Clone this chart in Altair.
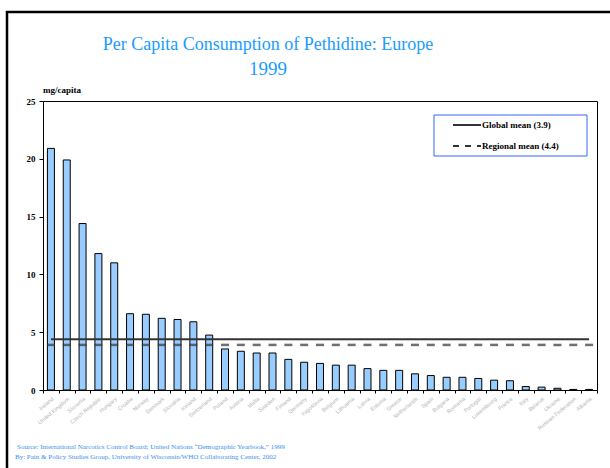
import altair as alt
import pandas as pd

countries = ["Ireland", "United Kingdom", "Slovenia", "Czech Republic", "Hungary",
             "Croatia", "Norway", "Denmark", "Slovakia", "Iceland", "Switzerland",
             "Poland", "Austria", "Malta", "Sweden", "Finland", "Germany", "Yugoslavia",
             "Belgium", "Lithuania", "Latvia", "Estonia", "Greece", "Netherlands",
             "Spain", "Bulgaria", "Romania", "Portugal", "Luxembourg", "France",
             "Italy", "Belarus", "Ukraine", "Russian Federation", "Albania"]
values = [20.9, 19.9, 14.4, 11.8, 11.0, 6.6, 6.55, 6.2, 6.1, 5.9, 4.75, 3.55, 3.35,
          3.2, 3.2, 2.65, 2.4, 2.3, 2.15, 2.15, 1.85, 1.7, 1.7, 1.4, 1.25, 1.1, 1.1,
          1.0, 0.85, 0.8, 0.3, 0.25, 0.15, 0.05, 0.05]
solid_line_value = 4.4
dashed_line_value = 3.9
legend_labels = ["Global mean (3.9)", "Regional mean (4.4)"]
title_lines = ["Per Capita Consumption of Pethidine: Europe", "1999"]
y_unit = "mg/capita"
footer_lines = ["Source: International Narcotics Control Board; United Nations \u201cDemographic Yearbook,\u201d 1999",
                "By: Pain & Policy Studies Group, University of Wisconsin/WHO Collaborating Center,  2002"]
y_ticks = [0, 5, 10, 15, 20, 25]

df = pd.DataFrame({"country": countries, "value": values,
                   "solid": [solid_line_value] * len(countries),
                   "dashed": [dashed_line_value] * len(countries)})

SERIF = "Liberation Serif"
TITLE_BLUE = "#1a9cff"
FOOT_BLUE = "#3a90ee"

xenc = alt.X("country:N", sort=None, title=None,
             scale=alt.Scale(paddingInner=0, paddingOuter=0),
             axis=alt.Axis(labelAngle=320, labelFontSize=5.5, labelColor="#b4b4b4",
                           labelFont="Liberation Sans", labelAlign="right",
                           labelBaseline="top", labelPadding=3,
                           tickBand="extent", tickSize=3, tickColor="#000",
                           domainColor="#000", labelOverlap=False))
yscale = alt.Scale(domain=[0, 25], nice=False)
yenc = alt.Y("value:Q", title=None, scale=yscale,
             axis=alt.Axis(values=y_ticks, grid=False, tickSize=4, tickColor="#000",
                           domainColor="#000", labelFont=SERIF, labelFontWeight="bold",
                           labelFontSize=9, labelColor="#000", labelPadding=4))

base = alt.Chart(df)
bars = base.mark_bar(size=7, color="#99ccff", stroke="#000", strokeWidth=1).encode(x=xenc, y=yenc)
solid = base.mark_line(color="#333", strokeWidth=2).encode(
    x=alt.X("country:N", sort=None), y=alt.Y("solid:Q", scale=yscale))
dashed = base.mark_tick(color="#333", size=8, thickness=2.5).encode(
    x=alt.X("country:N", sort=None), y=alt.Y("dashed:Q", scale=yscale))

one = pd.DataFrame({"k": [0]})


def txt(s, x, y, **kw):
    return alt.Chart(one).mark_text(text=s, **kw).encode(x=alt.value(x), y=alt.value(y))


frame_top = alt.Chart(one).mark_rule(color="#000", strokeWidth=2.5).encode(
    x=alt.value(-37), x2=alt.value(580), y=alt.value(-89))
frame_left = alt.Chart(one).mark_rule(color="#000", strokeWidth=2.5).encode(
    y=alt.value(-90), y2=alt.value(380), x=alt.value(-36))

title1 = txt(title_lines[0], 225, -51, font=SERIF, fontSize=18, color=TITLE_BLUE,
             align="center", baseline="alphabetic")
title2 = txt(title_lines[1], 225, -26, font=SERIF, fontSize=19, color=TITLE_BLUE,
             align="center", baseline="alphabetic")
unit = txt(y_unit, 0, -8, font=SERIF, fontSize=9, fontWeight="bold", color="#000",
           align="left", baseline="alphabetic")
foot1 = txt(footer_lines[0], -26, 348, font=SERIF, fontSize=7, color=FOOT_BLUE,
            align="left", baseline="alphabetic")
foot2 = txt(footer_lines[1], -28, 358, font=SERIF, fontSize=7, color=FOOT_BLUE,
            align="left", baseline="alphabetic")

legend_box = alt.Chart(one).mark_rect(fill="white", stroke="#3366ff", strokeWidth=1).encode(
    x=alt.value(391), x2=alt.value(544), y=alt.value(14), y2=alt.value(55))
leg_solid = alt.Chart(one).mark_rule(color="#333", strokeWidth=2).encode(
    x=alt.value(410), x2=alt.value(438), y=alt.value(24))
leg_dash = alt.Chart(one).mark_rule(color="#333", strokeWidth=2, strokeDash=[6, 6]).encode(
    x=alt.value(410), x2=alt.value(438), y=alt.value(45))
leg1 = txt(legend_labels[0], 439, 24, font=SERIF, fontSize=9, fontWeight="bold",
           color="#000", align="left", baseline="middle")
leg2 = txt(legend_labels[1], 439, 45, font=SERIF, fontSize=9, fontWeight="bold",
           color="#000", align="left", baseline="middle")

chart = alt.layer(bars, solid, dashed, frame_top, frame_left, title1, title2, unit,
                  foot1, foot2, legend_box, leg_solid, leg_dash, leg1, leg2).properties(
    width=554, height=289,
    padding={"left": 43, "top": 101, "right": 13, "bottom": 78},
    autosize=alt.AutoSizeParams(type="none"),
    background="white",
).configure_view(stroke="#000", strokeWidth=1)

chart.save("out.html", embed_options={"renderer": "svg", "actions": False})
